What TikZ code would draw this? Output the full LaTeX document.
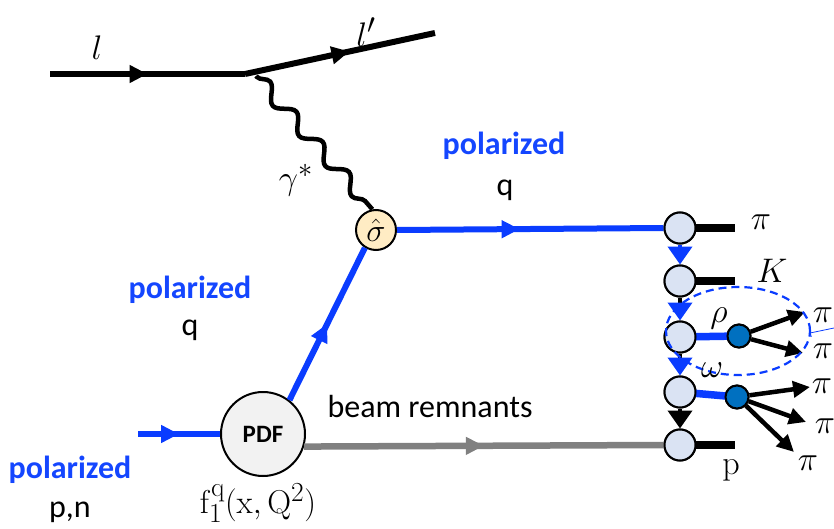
\documentclass[tikz,border=0pt]{standalone}
\usepackage[no-math]{fontspec}
\usepackage{graphicx}
\setmainfont{Carlito}
\usetikzlibrary{arrows.meta,decorations.pathmorphing,decorations.markings,shapes.geometric}
\definecolor{lblue}{RGB}{10,60,255}
\definecolor{txtblue}{RGB}{20,70,255}
\definecolor{chainfill}{RGB}{218,227,243}
\definecolor{darkdot}{RGB}{0,112,192}
\definecolor{sigfill}{RGB}{255,236,196}
\definecolor{pdffill}{RGB}{242,242,242}
\definecolor{remgray}{RGB}{128,128,128}
\tikzset{
  fline/.style={line width=6pt},
  midarrow/.style={postaction={decorate},decoration={markings,mark=at position #1 with {\arrow{Triangle[length=18pt,width=17pt]}}}},
  chainnode/.style={circle,draw=black,line width=2pt,fill=chainfill,minimum size=31pt,inner sep=0pt},
  dotnode/.style={circle,draw=black,line width=2pt,fill=darkdot,minimum size=23pt,inner sep=0pt},
  stub/.style={line width=8pt,black},
  piarrow/.style={line width=4.5pt,black,-{Triangle[length=17pt,width=16pt]}},
  chainarrow/.style={line width=4pt,-{Triangle[length=18pt,width=24pt]}},
  mathlbl/.style={font=\fontsize{24.88}{30}\selectfont,inner sep=0pt,scale=1.37},
  pol/.style={text=txtblue,font=\fontsize{32}{38}\selectfont\bfseries,inner sep=0pt},
  plain/.style={font=\fontsize{32}{38}\selectfont,inner sep=0pt},
}
\begin{document}
\begin{tikzpicture}[x=1pt,y=-1pt]
\useasboundingbox (0,0) rectangle (834,529);
% nodes
\coordinate (lstart) at (50,74);
\coordinate (vtx) at (245,74);
\coordinate (lend) at (435,33);
\coordinate (phst) at (256,76);
\node[circle,draw=black,line width=2pt,fill=sigfill,minimum size=40pt,inner sep=0pt,font=\fontsize{24.88}{30}\selectfont] (sig) at (376,230) {\scalebox{1.3}{$\hat{\sigma}$}};
\node[circle,draw=black,line width=2pt,fill=pdffill,minimum size=84pt,inner sep=0pt,font=\fontsize{25}{30}\selectfont\bfseries] (pdf) at (263,434) {PDF};
\coordinate (pin) at (138,434);
\node[chainnode] (c1) at (680,228) {};
\node[chainnode] (c2) at (680,281) {};
\node[chainnode] (c3) at (680,337) {};
\node[chainnode] (c4) at (680,392) {};
\node[chainnode] (c5) at (680,445) {};
\coordinate (s1) at (735,228);
\coordinate (s2) at (735,281);
\coordinate (s5) at (735,445);
\node[dotnode] (d3) at (739,336) {};
\node[dotnode] (d4) at (737,397) {};
\coordinate (a31) at (805,312);
\coordinate (a32) at (803,353);
\coordinate (a41) at (810,387);
\coordinate (a42) at (806,422);
\coordinate (a43) at (794,452);
\coordinate (tk1) at (810,333);
\coordinate (tk2) at (834,328);
% lepton lines
\draw[fline,midarrow=0.5] (lstart) -- (vtx);
\draw[fline,midarrow=0.55] (vtx) -- (lend);
% photon
\draw[line width=4.5pt,decorate,decoration={snake,amplitude=7pt,segment length=40pt,pre length=1pt,post length=1pt}] (phst) -- (sig.100);
% blue quark lines
\draw[fline,lblue,midarrow=0.5] (pin) -- (pdf.west);
\draw[fline,lblue,midarrow=0.5] (pdf.52) -- (sig.238);
\draw[fline,lblue,midarrow=0.46] (sig.east) -- (c1.west);
% beam remnants
\draw[line width=6.5pt,remgray,midarrow=0.5] (pdf.-17) -- (c5.west);
% chain
\draw[stub] (c1.center) -- (s1);
\draw[stub] (c2.center) -- (s2);
\draw[stub] (c5.center) -- (s5);
\draw[line width=7.5pt,lblue] (c3.center) -- (d3.center);
\draw[line width=7.5pt,lblue] (c4.center) -- (d4.center);
\draw[chainarrow,lblue] (c1.south) -- (c2.north);
\draw[chainarrow,black,-{Triangle[length=18pt,width=24pt,color=lblue]}] (c2.south) -- (c3.north);
\draw[chainarrow,black,-{Triangle[length=18pt,width=24pt,color=lblue]}] (c3.south) -- (c4.north);
\draw[chainarrow,black] (c4.south) -- (c5.north);
\foreach \c in {c1,c2,c3,c4,c5}{\node[chainnode] at (\c) {};}
\node[dotnode] at (d3) {};
\node[dotnode] at (d4) {};
\draw[piarrow] (d3) -- (a31);
\draw[piarrow] (d3) -- (a32);
\draw[piarrow] (d4) -- (a41);
\draw[piarrow] (d4) -- (a42);
\draw[piarrow] (d4) -- (a43);
% dashed ellipse
\node[ellipse,draw=lblue,dash pattern=on 8pt off 5pt,line width=2.2pt,minimum width=144pt,minimum height=88pt,inner sep=0pt] (ell) at (738,331) {};
\draw[lblue,line width=0.8pt,{Bar[width=8pt]}-] (tk1) -- (tk2);
% labels
\node[mathlbl] (ll) at (97,48) {$l$};
\node[mathlbl] (llp) at (366,32) {$l'$};
\node[mathlbl] (gam) at (296,180) {$\gamma^*$};
\node[mathlbl] (pi1) at (761,222) {$\pi$};
\node[mathlbl] (kk) at (772,271) {$K$};
\node[mathlbl] (rho) at (719,318) {$\rho$};
\node[mathlbl] (om) at (712,370) {$\omega$};
\node[mathlbl] (pi2) at (823,315) {$\pi$};
\node[mathlbl] (pi3) at (823,351) {$\pi$};
\node[mathlbl] (pi4) at (822,386) {$\pi$};
\node[mathlbl] (pi5) at (825,426) {$\pi$};
\node[mathlbl] (pi6) at (808,463) {$\pi$};
\node[mathlbl] (pp) at (731,470) {$\mathrm{p}$};
\node[pol] (pol1) at (504,146) {polarized};
\node[plain] (q1) at (505,190) {q};
\node[pol] (pol2) at (190,290) {polarized};
\node[plain] (q2) at (190,330) {q};
\node[pol] (pol3) at (70,470) {polarized};
\node[plain] (pn) at (70,512) {p,n};
\node[plain] (br) at (430,407) {beam remnants};
\node[mathlbl,scale=0.97] (ff) at (258,503) {$\mathrm{f}_1^{\mathrm{q}}(\mathrm{x},\mathrm{Q}^2)$};
\end{tikzpicture}
\end{document}
